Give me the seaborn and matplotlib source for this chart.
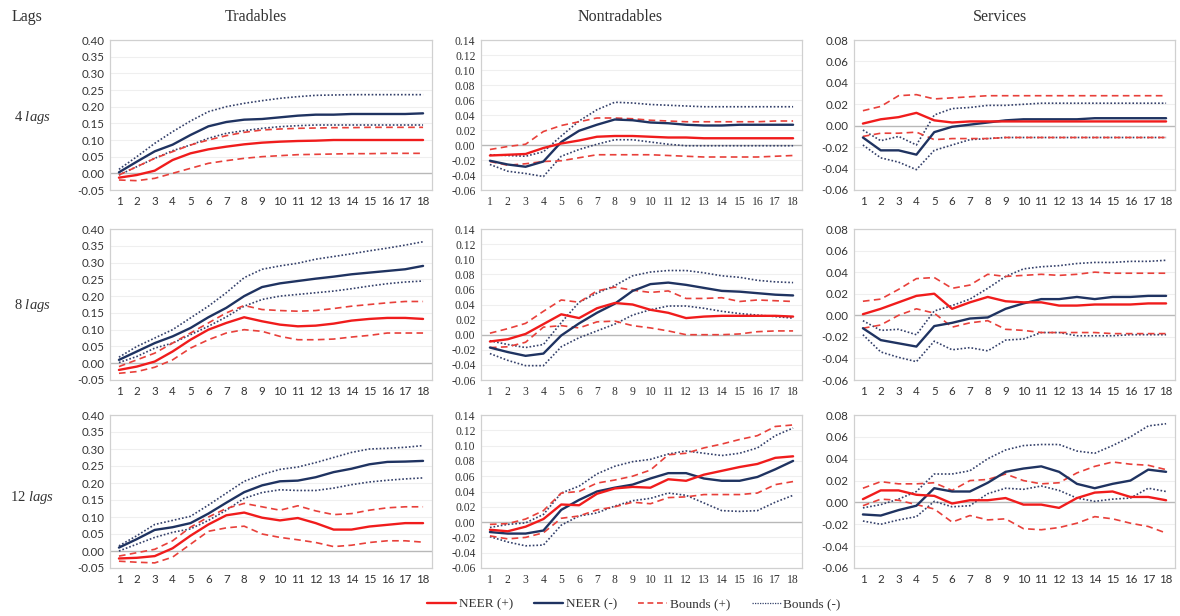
import matplotlib
matplotlib.use("Agg")
import matplotlib.pyplot as plt
from matplotlib.lines import Line2D
import numpy as np
import pandas as pd
import seaborn as sns

# ---------------------------------------------------------------- data
horizon = list(range(1, 19))
columns = ["Tradables", "Nontradables", "Services"]
row_lags = ["4", "8", "12"]
legend_labels = ["NEER (+)", "NEER (-)", "Bounds (+)", "Bounds (-)"]

# Tradables, 4 lags
trad4_pos = [-0.013, -0.005, 0.008, 0.040, 0.060, 0.072, 0.080, 0.087, 0.092, 0.095, 0.097, 0.098, 0.100, 0.100, 0.100, 0.100, 0.100, 0.100]
trad4_pos_hi = [-0.005, 0.020, 0.045, 0.065, 0.085, 0.100, 0.113, 0.123, 0.130, 0.133, 0.135, 0.136, 0.137, 0.137, 0.138, 0.138, 0.138, 0.138]
trad4_pos_lo = [-0.020, -0.022, -0.015, 0.000, 0.015, 0.030, 0.038, 0.045, 0.050, 0.053, 0.056, 0.057, 0.058, 0.059, 0.059, 0.060, 0.060, 0.060]
trad4_neg = [0.003, 0.035, 0.066, 0.086, 0.115, 0.141, 0.154, 0.161, 0.163, 0.168, 0.173, 0.176, 0.176, 0.178, 0.178, 0.178, 0.178, 0.180]
trad4_neg_hi = [0.012, 0.050, 0.090, 0.125, 0.157, 0.185, 0.200, 0.210, 0.218, 0.225, 0.230, 0.234, 0.235, 0.236, 0.236, 0.236, 0.236, 0.236]
trad4_neg_lo = [-0.005, 0.020, 0.045, 0.068, 0.085, 0.105, 0.120, 0.128, 0.135, 0.140, 0.143, 0.145, 0.145, 0.145, 0.145, 0.145, 0.145, 0.145]

# Nontradables, 4 lags
nont4_pos = [-0.014, -0.013, -0.012, -0.004, 0.002, 0.006, 0.011, 0.012, 0.012, 0.011, 0.010, 0.010, 0.009, 0.009, 0.009, 0.009, 0.009, 0.009]
nont4_pos_hi = [-0.006, -0.002, 0.001, 0.018, 0.026, 0.031, 0.036, 0.036, 0.035, 0.033, 0.032, 0.031, 0.031, 0.031, 0.031, 0.031, 0.032, 0.032]
nont4_pos_lo = [-0.022, -0.027, -0.025, -0.022, -0.021, -0.017, -0.013, -0.013, -0.013, -0.013, -0.014, -0.015, -0.016, -0.016, -0.016, -0.016, -0.015, -0.014]
nont4_neg = [-0.021, -0.026, -0.029, -0.022, 0.004, 0.019, 0.027, 0.034, 0.033, 0.030, 0.029, 0.027, 0.026, 0.026, 0.027, 0.027, 0.027, 0.027]
nont4_neg_hi = [-0.013, -0.014, -0.015, -0.009, 0.012, 0.032, 0.047, 0.057, 0.056, 0.054, 0.053, 0.052, 0.051, 0.051, 0.051, 0.051, 0.051, 0.051]
nont4_neg_lo = [-0.026, -0.035, -0.038, -0.042, -0.015, -0.006, 0.001, 0.007, 0.007, 0.004, 0.001, -0.001, -0.001, -0.001, -0.001, -0.001, -0.001, -0.001]

# Services, 4 lags
serv4_pos = [0.002, 0.006, 0.008, 0.012, 0.005, 0.003, 0.004, 0.004, 0.004, 0.004, 0.004, 0.004, 0.004, 0.004, 0.004, 0.004, 0.004, 0.004]
serv4_pos_hi = [0.014, 0.018, 0.028, 0.029, 0.025, 0.026, 0.027, 0.028, 0.028, 0.028, 0.028, 0.028, 0.028, 0.028, 0.028, 0.028, 0.028, 0.028]
serv4_pos_lo = [-0.010, -0.007, -0.007, -0.006, -0.013, -0.012, -0.012, -0.012, -0.011, -0.011, -0.011, -0.011, -0.011, -0.011, -0.011, -0.011, -0.011, -0.011]
serv4_neg = [-0.011, -0.023, -0.023, -0.027, -0.006, -0.001, 0.001, 0.003, 0.005, 0.006, 0.006, 0.006, 0.006, 0.007, 0.007, 0.007, 0.007, 0.007]
serv4_neg_hi = [-0.004, -0.014, -0.010, -0.018, 0.010, 0.016, 0.017, 0.019, 0.019, 0.020, 0.021, 0.021, 0.021, 0.021, 0.021, 0.021, 0.021, 0.021]
serv4_neg_lo = [-0.018, -0.030, -0.034, -0.041, -0.023, -0.018, -0.013, -0.012, -0.011, -0.011, -0.011, -0.011, -0.011, -0.011, -0.011, -0.011, -0.011, -0.011]

# Tradables, 8 lags
trad8_pos = [-0.020, -0.010, 0.005, 0.035, 0.070, 0.100, 0.120, 0.137, 0.125, 0.115, 0.110, 0.112, 0.118, 0.127, 0.132, 0.135, 0.135, 0.132]
trad8_pos_hi = [-0.010, 0.010, 0.030, 0.060, 0.090, 0.120, 0.150, 0.172, 0.160, 0.157, 0.155, 0.157, 0.163, 0.170, 0.175, 0.180, 0.184, 0.184]
trad8_pos_lo = [-0.030, -0.025, -0.012, 0.010, 0.045, 0.070, 0.090, 0.100, 0.095, 0.080, 0.070, 0.070, 0.072, 0.078, 0.083, 0.090, 0.090, 0.090]
trad8_neg = [0.010, 0.035, 0.060, 0.080, 0.105, 0.137, 0.165, 0.200, 0.227, 0.238, 0.245, 0.252, 0.258, 0.265, 0.270, 0.275, 0.280, 0.290]
trad8_neg_hi = [0.018, 0.050, 0.075, 0.100, 0.135, 0.170, 0.210, 0.255, 0.280, 0.290, 0.298, 0.310, 0.318, 0.326, 0.335, 0.343, 0.352, 0.362]
trad8_neg_lo = [0.002, 0.020, 0.045, 0.060, 0.085, 0.110, 0.138, 0.170, 0.190, 0.200, 0.205, 0.210, 0.215, 0.222, 0.230, 0.237, 0.242, 0.245]

# Nontradables, 8 lags
nont8_pos = [-0.009, -0.006, 0.001, 0.014, 0.027, 0.022, 0.035, 0.042, 0.040, 0.033, 0.029, 0.022, 0.024, 0.025, 0.025, 0.025, 0.025, 0.024]
nont8_pos_hi = [0.002, 0.008, 0.015, 0.031, 0.046, 0.043, 0.058, 0.063, 0.059, 0.056, 0.058, 0.048, 0.048, 0.049, 0.044, 0.046, 0.045, 0.044]
nont8_pos_lo = [-0.017, -0.016, -0.010, 0.010, 0.012, 0.009, 0.017, 0.018, 0.012, 0.009, 0.005, 0.000, 0.000, 0.000, 0.001, 0.004, 0.005, 0.005]
nont8_neg = [-0.017, -0.023, -0.028, -0.025, -0.001, 0.015, 0.029, 0.041, 0.058, 0.067, 0.069, 0.066, 0.062, 0.058, 0.057, 0.055, 0.053, 0.052]
nont8_neg_hi = [-0.008, -0.013, -0.017, -0.013, 0.016, 0.043, 0.055, 0.065, 0.078, 0.083, 0.085, 0.085, 0.082, 0.078, 0.076, 0.072, 0.070, 0.069]
nont8_neg_lo = [-0.025, -0.034, -0.041, -0.041, -0.016, -0.004, 0.005, 0.014, 0.026, 0.033, 0.038, 0.038, 0.035, 0.031, 0.028, 0.026, 0.024, 0.022]

# Services, 8 lags
serv8_pos = [0.001, 0.006, 0.012, 0.018, 0.020, 0.006, 0.012, 0.017, 0.013, 0.012, 0.012, 0.009, 0.009, 0.010, 0.010, 0.010, 0.011, 0.011]
serv8_pos_hi = [0.013, 0.015, 0.024, 0.034, 0.035, 0.025, 0.028, 0.038, 0.036, 0.037, 0.038, 0.037, 0.038, 0.040, 0.039, 0.039, 0.039, 0.039]
serv8_pos_lo = [-0.012, -0.009, 0.000, 0.006, 0.002, -0.011, -0.007, -0.005, -0.013, -0.014, -0.016, -0.016, -0.016, -0.016, -0.017, -0.017, -0.017, -0.017]
serv8_neg = [-0.012, -0.023, -0.026, -0.029, -0.010, -0.007, -0.003, -0.002, 0.006, 0.011, 0.015, 0.015, 0.017, 0.015, 0.017, 0.017, 0.018, 0.018]
serv8_neg_hi = [-0.005, -0.014, -0.013, -0.018, 0.004, 0.009, 0.015, 0.025, 0.036, 0.043, 0.045, 0.046, 0.048, 0.049, 0.049, 0.050, 0.050, 0.051]
serv8_neg_lo = [-0.018, -0.034, -0.039, -0.043, -0.024, -0.032, -0.030, -0.033, -0.023, -0.022, -0.016, -0.016, -0.019, -0.019, -0.019, -0.018, -0.018, -0.018]

# Tradables, 12 lags
trad12_pos = [-0.022, -0.020, -0.015, 0.008, 0.045, 0.078, 0.105, 0.113, 0.098, 0.090, 0.097, 0.082, 0.063, 0.063, 0.072, 0.077, 0.082, 0.082]
trad12_pos_hi = [-0.015, -0.005, 0.005, 0.030, 0.070, 0.100, 0.125, 0.140, 0.130, 0.120, 0.133, 0.118, 0.107, 0.110, 0.120, 0.127, 0.130, 0.130]
trad12_pos_lo = [-0.030, -0.033, -0.035, -0.018, 0.020, 0.058, 0.068, 0.073, 0.050, 0.040, 0.033, 0.025, 0.013, 0.017, 0.025, 0.030, 0.030, 0.026]
trad12_neg = [0.010, 0.035, 0.062, 0.070, 0.082, 0.110, 0.142, 0.173, 0.193, 0.205, 0.207, 0.217, 0.232, 0.242, 0.255, 0.262, 0.263, 0.265]
trad12_neg_hi = [0.015, 0.045, 0.078, 0.090, 0.102, 0.135, 0.170, 0.205, 0.225, 0.240, 0.247, 0.260, 0.275, 0.290, 0.300, 0.302, 0.305, 0.310]
trad12_neg_lo = [0.000, 0.020, 0.040, 0.055, 0.065, 0.090, 0.120, 0.155, 0.172, 0.180, 0.178, 0.178, 0.185, 0.195, 0.203, 0.208, 0.212, 0.215]

# Nontradables, 12 lags
nont12_pos = [-0.010, -0.012, -0.006, 0.004, 0.023, 0.022, 0.037, 0.044, 0.046, 0.045, 0.056, 0.054, 0.062, 0.067, 0.072, 0.076, 0.084, 0.086]
nont12_pos_hi = [-0.003, -0.002, 0.004, 0.015, 0.038, 0.040, 0.051, 0.055, 0.060, 0.068, 0.088, 0.090, 0.097, 0.102, 0.108, 0.113, 0.125, 0.127]
nont12_pos_lo = [-0.018, -0.022, -0.020, -0.014, 0.005, 0.008, 0.016, 0.020, 0.026, 0.024, 0.032, 0.033, 0.036, 0.036, 0.036, 0.038, 0.049, 0.053]
nont12_neg = [-0.013, -0.015, -0.015, -0.011, 0.016, 0.029, 0.040, 0.045, 0.049, 0.057, 0.064, 0.064, 0.057, 0.054, 0.054, 0.059, 0.069, 0.080]
nont12_neg_hi = [-0.007, -0.003, -0.001, 0.010, 0.038, 0.047, 0.063, 0.073, 0.079, 0.082, 0.089, 0.093, 0.090, 0.087, 0.090, 0.097, 0.113, 0.123]
nont12_neg_lo = [-0.019, -0.026, -0.031, -0.030, -0.004, 0.008, 0.012, 0.021, 0.028, 0.031, 0.038, 0.035, 0.025, 0.015, 0.014, 0.015, 0.026, 0.035]

# Services, 12 lags
serv12_pos = [0.003, 0.011, 0.011, 0.007, 0.006, -0.001, 0.002, 0.002, 0.004, -0.002, -0.002, -0.005, 0.004, 0.009, 0.010, 0.005, 0.005, 0.002]
serv12_pos_hi = [0.013, 0.019, 0.017, 0.017, 0.018, 0.011, 0.020, 0.021, 0.026, 0.020, 0.017, 0.018, 0.027, 0.033, 0.037, 0.035, 0.034, 0.030]
serv12_pos_lo = [-0.003, 0.003, 0.002, -0.002, -0.006, -0.018, -0.012, -0.016, -0.015, -0.024, -0.025, -0.023, -0.019, -0.013, -0.015, -0.019, -0.022, -0.028]
serv12_neg = [-0.011, -0.012, -0.007, -0.003, 0.013, 0.010, 0.010, 0.018, 0.028, 0.031, 0.033, 0.028, 0.017, 0.013, 0.017, 0.020, 0.030, 0.028]
serv12_neg_hi = [-0.005, -0.002, 0.003, 0.010, 0.026, 0.026, 0.029, 0.040, 0.048, 0.052, 0.053, 0.053, 0.047, 0.045, 0.052, 0.060, 0.070, 0.072]
serv12_neg_lo = [-0.017, -0.020, -0.016, -0.013, 0.001, -0.004, -0.003, 0.008, 0.013, 0.012, 0.015, 0.011, 0.004, 0.001, 0.003, 0.004, 0.013, 0.010]

panels = {
    (0, 0): (trad4_pos, trad4_pos_hi, trad4_pos_lo, trad4_neg, trad4_neg_hi, trad4_neg_lo),
    (0, 1): (nont4_pos, nont4_pos_hi, nont4_pos_lo, nont4_neg, nont4_neg_hi, nont4_neg_lo),
    (0, 2): (serv4_pos, serv4_pos_hi, serv4_pos_lo, serv4_neg, serv4_neg_hi, serv4_neg_lo),
    (1, 0): (trad8_pos, trad8_pos_hi, trad8_pos_lo, trad8_neg, trad8_neg_hi, trad8_neg_lo),
    (1, 1): (nont8_pos, nont8_pos_hi, nont8_pos_lo, nont8_neg, nont8_neg_hi, nont8_neg_lo),
    (1, 2): (serv8_pos, serv8_pos_hi, serv8_pos_lo, serv8_neg, serv8_neg_hi, serv8_neg_lo),
    (2, 0): (trad12_pos, trad12_pos_hi, trad12_pos_lo, trad12_neg, trad12_neg_hi, trad12_neg_lo),
    (2, 1): (nont12_pos, nont12_pos_hi, nont12_pos_lo, nont12_neg, nont12_neg_hi, nont12_neg_lo),
    (2, 2): (serv12_pos, serv12_pos_hi, serv12_pos_lo, serv12_neg, serv12_neg_hi, serv12_neg_lo),
}

# ---------------------------------------------------------------- style
sns.set_theme(style="white")
plt.rcParams["font.family"] = ["Liberation Serif", "DejaVu Serif"]
plt.rcParams["axes.unicode_minus"] = False
plt.rcParams["mathtext.fontset"] = "custom"
plt.rcParams["mathtext.rm"] = "Liberation Serif"
plt.rcParams["mathtext.it"] = "Liberation Serif:italic"

RED = "#f01c1c"
RED_BAND = "#e8403a"
NAVY = "#1f3361"
NAVY_BAND = "#34406a"
TEXT = "#333333"

ylims = [(-0.05, 0.40, 0.05), (-0.06, 0.14, 0.02), (-0.06, 0.08, 0.02)]
tick_fonts = [("Lato", 8.3), ("Liberation Serif", 8.4), ("Lato", 8.3)]

W, H = 1180, 616
col_px = [(110, 432), (481, 802), (854, 1175)]
row_px = [(40, 190), (229, 380), (415, 568)]

fig = plt.figure(figsize=(W / 100, H / 100), dpi=100)
fig.patch.set_facecolor("white")

styles = [
    dict(color=RED, lw=1.7, ls="-"),
    dict(color=RED_BAND, lw=1.2, ls=(0, (4, 2.6))),
    dict(color=RED_BAND, lw=1.2, ls=(0, (4, 2.6))),
    dict(color=NAVY, lw=1.7, ls="-"),
    dict(color=NAVY_BAND, lw=1.2, ls=(0, (1, 1.2))),
    dict(color=NAVY_BAND, lw=1.2, ls=(0, (1, 1.2))),
]
draw_order = [4, 5, 1, 2, 3, 0]

for (r, c), series in panels.items():
    x0, x1 = col_px[c]
    y0, y1 = row_px[r]
    ax = fig.add_axes([x0 / W, 1 - y1 / H, (x1 - x0) / W, (y1 - y0) / H])
    for k in draw_order:
        df = pd.DataFrame({"h": horizon, "v": series[k]})
        st = styles[k]
        sns.lineplot(data=df, x="h", y="v", ax=ax, color=st["color"],
                     linewidth=st["lw"], linestyle=st["ls"], zorder=3)
    lo, hi, step = ylims[c]
    ticks = np.round(np.arange(lo, hi + step / 2, step), 2)
    ax.set_ylim(lo, hi)
    ax.set_yticks(ticks)
    ax.set_yticklabels([f"{t:.2f}" for t in ticks])
    ax.set_xlim(0.5, 18.5)
    ax.set_xticks(horizon)
    ax.set_xticklabels([str(h) for h in horizon])
    for t in ticks:
        if abs(t) > 1e-9:
            ax.axhline(t, color="#efefef", lw=0.8, zorder=0)
    ax.axhline(0, color="#b8b8b8", lw=1.0, zorder=1)
    ax.set_xlabel("")
    ax.set_ylabel("")
    fam, size = tick_fonts[c]
    ax.tick_params(axis="both", length=0, pad=4, labelcolor=TEXT,
                   labelsize=size, labelfontfamily=fam)
    for sp in ax.spines.values():
        sp.set_color("#d0d0d0")
        sp.set_linewidth(0.9)
    ax.set_facecolor("white")

# column headers and row labels
title_x = [256, 620, 1000]
for name, xp in zip(columns, title_x):
    fig.text(xp / W, 1 - 17 / H, name, ha="center", va="center",
             fontsize=11.5, color=TEXT)
fig.text(27 / W, 1 - 17 / H, "Lags", ha="center", va="center",
         fontsize=11.5, color=TEXT)
for lag, yp in zip(row_lags, [117, 306, 497]):
    fig.text(32 / W, 1 - yp / H, lag + r" $\mathit{lags}$", ha="center", va="center",
             fontsize=10.5, color=TEXT)

handles = [
    Line2D([], [], color=RED, lw=1.7, ls="-"),
    Line2D([], [], color=NAVY, lw=1.7, ls="-"),
    Line2D([], [], color=RED_BAND, lw=1.2, ls=(0, (3.5, 2.2))),
    Line2D([], [], color=NAVY_BAND, lw=0.9, ls=(0, (1, 1.0))),
]
leg = fig.legend(handles, legend_labels, loc="center", ncol=4,
                 bbox_to_anchor=(634 / W, 1 - 604 / H), frameon=False,
                 prop={"size": 9.5}, handlelength=2.2,
                 handletextpad=0.2, columnspacing=1.6)
for t in leg.get_texts():
    t.set_color(TEXT)

fig.savefig("out.png", dpi=100, facecolor="white")
